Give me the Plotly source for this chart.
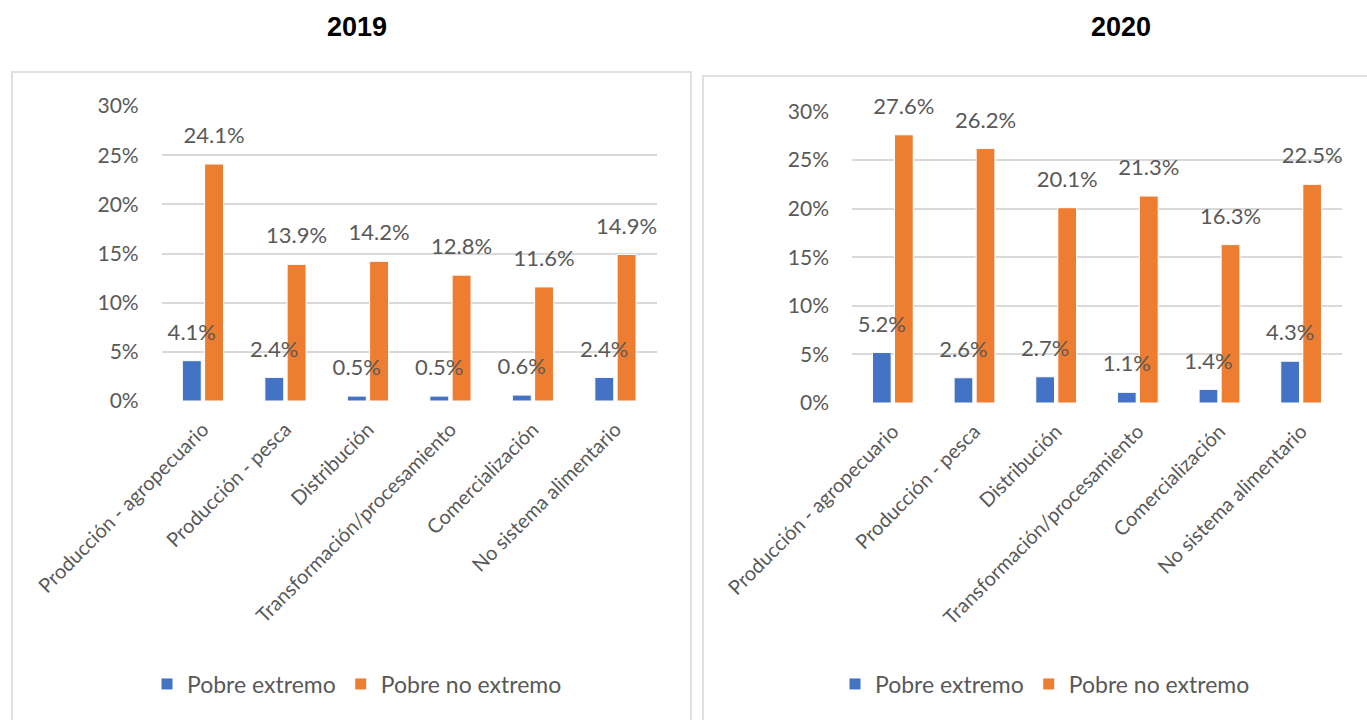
import plotly.graph_objects as go

# Categories of the food-system employment breakdown
categorias = [
    "Producción - agropecuario",
    "Producción - pesca",
    "Distribución",
    "Transformación/procesamiento",
    "Comercialización",
    "No sistema alimentario",
]

# Share of workers in poverty, by year (fractions)
extremo_2019 = [0.041, 0.024, 0.005, 0.005, 0.006, 0.024]
no_extremo_2019 = [0.241, 0.139, 0.142, 0.128, 0.116, 0.149]
extremo_2020 = [0.052, 0.026, 0.027, 0.011, 0.014, 0.043]
no_extremo_2020 = [0.276, 0.262, 0.201, 0.213, 0.163, 0.225]

series_names = ["Pobre extremo", "Pobre no extremo"]
years = ["2019", "2020"]
y_ticks = [0, 0.05, 0.10, 0.15, 0.20, 0.25, 0.30]

BLUE = "#4472C4"
ORANGE = "#ED7D31"
TEXT = "#595959"
GRID = "#D9D9D9"
FONT = "Lato"

W, H = 1367, 720

fig = go.Figure()

panels = [
    ("x", "y", "legend", [extremo_2019, no_extremo_2019]),
    ("x2", "y2", "legend2", [extremo_2020, no_extremo_2020]),
]

for xa, ya, leg, vals in panels:
    for name, color, values, grp in zip(series_names, [BLUE, ORANGE], vals, ["a", "b"]):
        fig.add_trace(go.Bar(
            x=categorias, y=values, name=name, xaxis=xa, yaxis=ya,
            legend=leg, offsetgroup=grp,
            marker=dict(color=color, line=dict(color="white", width=1)),
            hoverinfo="skip",
        ))
    # value labels floating above each bar
    for values, grp in zip(vals, ["a", "b"]):
        fig.add_trace(go.Scatter(
            x=categorias, y=values, xaxis=xa, yaxis=ya, offsetgroup=grp,
            mode="markers+text",
            marker=dict(size=23, opacity=0),
            text=[f"{v * 100:.1f}%" for v in values],
            textposition="top center",
            textfont=dict(family=FONT, size=22, color=TEXT),
            showlegend=False, hoverinfo="skip", cliponaxis=False,
        ))

xaxis_common = dict(
    type="category", tickangle=-45, showgrid=False, zeroline=False,
    showline=False, ticks="", ticklabelstandoff=12, automargin=False,
    tickfont=dict(family=FONT, size=20, color=TEXT), fixedrange=True,
)
yaxis_common = dict(
    range=[0, 0.30], tickvals=y_ticks, tickformat=".0%",
    showgrid=True, gridcolor=GRID, gridwidth=2, zeroline=False,
    showline=False, ticks="", ticklabelstandoff=22, automargin=False,
    tickfont=dict(family=FONT, size=21, color=TEXT), fixedrange=True,
)

legend_common = dict(
    orientation="h", y=1 - 684 / H, xanchor="center", yanchor="middle",
    font=dict(family=FONT, size=23, color=TEXT), itemwidth=30,
    traceorder="normal", bgcolor="rgba(0,0,0,0)",
)

fig.update_layout(
    width=W, height=H,
    margin=dict(l=0, r=0, t=0, b=0, autoexpand=False),
    paper_bgcolor="white", plot_bgcolor="white",
    barmode="group", bargap=0.46, bargroupgap=0.15,
    scattermode="group",
    xaxis=dict(domain=[161.7 / W, 656.7 / W], anchor="y", **xaxis_common),
    yaxis=dict(domain=[1 - 401 / H, 1 - 106 / H], anchor="x", **yaxis_common),
    xaxis2=dict(domain=[852 / W, 1342 / W], anchor="y2", **xaxis_common),
    yaxis2=dict(domain=[1 - 403 / H, 1 - 111.5 / H], anchor="x2", **yaxis_common),
    legend=dict(x=357 / W, **legend_common),
    legend2=dict(x=1045 / W, **legend_common),
    showlegend=True,
)

# Panel titles
for year, xc in zip(years, [357, 1121]):
    fig.add_annotation(
        text=f"<b>{year}</b>", x=xc / W, y=1 - 27 / H, xref="paper", yref="paper",
        showarrow=False, xanchor="center", yanchor="middle",
        font=dict(family="Liberation Sans", size=27, color="black"),
    )

# Light frames around each chart panel
fig.add_shape(type="rect", xref="paper", yref="paper",
              x0=12 / W, x1=691 / W, y0=-0.05, y1=1 - 72 / H,
              line=dict(color="#E0E0E0", width=2), fillcolor="rgba(0,0,0,0)", layer="below")
fig.add_shape(type="rect", xref="paper", yref="paper",
              x0=703 / W, x1=1.02, y0=-0.05, y1=1 - 76 / H,
              line=dict(color="#E0E0E0", width=2), fillcolor="rgba(0,0,0,0)", layer="below")

fig.write_html("out.html", config={"displayModeBar": False})
